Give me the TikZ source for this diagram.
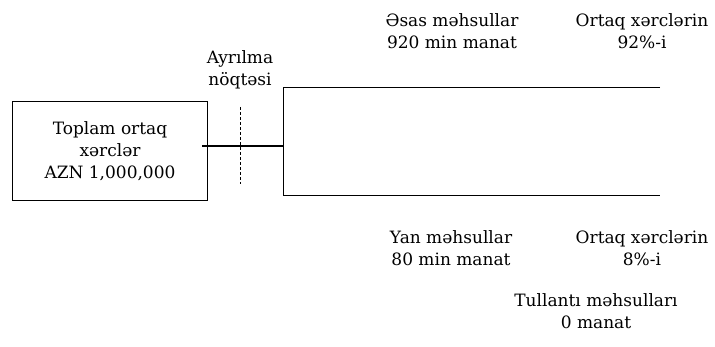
\documentclass[tikz,border=0pt]{standalone}
\usepackage{fontspec}
\setmainfont{DejaVu Serif}
\usepackage{tikz}
\usetikzlibrary{positioning,calc}

\tikzset{
	lbl/.style={align=center,inner sep=0pt,font=\fontsize{17}{22}\selectfont},
	costbox/.style={draw,line width=1pt,minimum width=195pt,minimum height=99pt,align=center,inner sep=0pt,font=\fontsize{17}{22}\selectfont},
	flow/.style={line width=1pt}
}

\begin{document}
\begin{tikzpicture}[x=1pt,y=-1pt]
			\useasboundingbox (0,0) rectangle (715,347);
			% joint cost box
			\node[costbox] (total) at (110,151.5) {Toplam ortaq\\xərclər\\AZN 1,000,000};
			% split-off point
			\coordinate (split) at (283,146);
			\coordinate (up) at (283,88);
			\coordinate (down) at (283,196);
			\coordinate (upend) at (660,88);
			\coordinate (downend) at (660,196);
			\coordinate (dashtop) at (240,107);
			\coordinate (dashbot) at (240,184);
			\draw[line width=1.6pt] ([xshift=-6pt]total.east |- split) -- (split);
			\draw[flow] (upend) -- (up) -- (down) -- (downend);
			\draw[densely dashed] (dashtop) -- (dashbot);
			\node[lbl] (splitlbl) at (240,70) {Ayrılma\\nöqtəsi};
			% main products
			\node[lbl] (mainprod) at (452,31) {Əsas məhsullar\\920 min manat};
			\node[lbl] (mainshare) at (642,31) {Ortaq xərclərin\\92\%-i};
			% by-products
			\node[lbl] (byprod) at (451,248) {Yan məhsullar\\80 min manat};
			\node[lbl] (byshare) at (642,248) {Ortaq xərclərin\\8\%-i};
			% waste
			\node[lbl] (waste) at (596,311) {Tullantı məhsulları\\0 manat};
		\end{tikzpicture}
\end{document}
